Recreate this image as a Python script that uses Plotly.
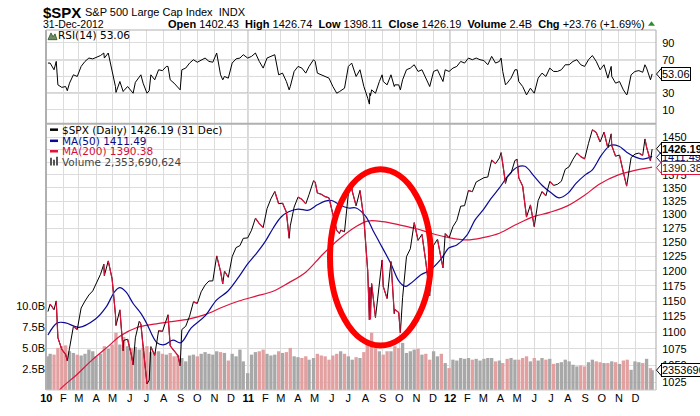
import math
import plotly.graph_objects as go

# ---------------- data ----------------
d2010 = ["01-04","01-08","01-15","01-22","01-29","02-05","02-12","02-19","02-26","03-05","03-12","03-19","03-26",
         "04-01","04-09","04-16","04-23","04-30","05-07","05-14","05-21","05-28","06-04","06-11","06-18","06-25",
         "07-02","07-09","07-16","07-23","07-30","08-06","08-13","08-20","08-27","09-03","09-10","09-17","09-24",
         "10-01","10-08","10-15","10-22","10-29","11-05","11-12","11-19","11-26","12-03","12-10","12-17","12-23","12-31"]
d2011 = ["01-07","01-14","01-21","01-28","02-04","02-11","02-18","02-25","03-04","03-11","03-18","03-25",
         "04-01","04-08","04-15","04-21","04-29","05-06","05-13","05-20","05-27","06-03","06-10","06-17","06-24",
         "07-01","07-08","07-15","07-22","07-29","08-05","08-12","08-19","08-26","09-02","09-09","09-16","09-23","09-30",
         "10-07","10-14","10-21","10-28","11-04","11-11","11-18","11-25","12-02","12-09","12-16","12-23","12-30"]
d2012 = ["01-06","01-13","01-20","01-27","02-03","02-10","02-17","02-24","03-02","03-09","03-16","03-23","03-30",
         "04-05","04-13","04-20","04-27","05-04","05-11","05-18","05-25","06-01","06-08","06-15","06-22","06-29",
         "07-06","07-13","07-20","07-27","08-03","08-10","08-17","08-24","08-31","09-07","09-14","09-21","09-28",
         "10-05","10-12","10-19","10-26","11-02","11-09","11-16","11-23","11-30","12-07","12-14","12-21","12-28","12-31"]
week_dates = ["2010-" + d for d in d2010] + ["2011-" + d for d in d2011] + ["2012-" + d for d in d2012]

week_close = [
    1133.0, 1145.0, 1136.0, 1091.8, 1073.9, 1066.2, 1075.5, 1109.2, 1104.5, 1138.7, 1150.0, 1159.9, 1166.6,
    1178.1, 1194.4, 1192.1, 1217.3, 1186.7, 1110.9, 1135.7, 1087.7, 1089.4, 1064.9, 1091.6, 1117.5, 1076.8,
    1022.6, 1078.0, 1064.9, 1102.7, 1101.6, 1121.6, 1079.3, 1071.7, 1064.6, 1104.5, 1109.6, 1125.6, 1148.7,
    1146.2, 1165.2, 1176.2, 1183.1, 1183.3, 1225.9, 1199.2, 1199.7, 1189.4, 1224.7, 1240.4, 1243.9, 1256.8, 1257.6,
    1271.5, 1293.2, 1283.4, 1276.3, 1310.9, 1329.2, 1343.0, 1319.9, 1321.2, 1304.3, 1279.2, 1313.8,
    1332.4, 1328.2, 1319.7, 1337.4, 1363.6, 1340.2, 1337.8, 1333.3, 1331.1, 1300.2, 1271.0, 1271.5, 1268.5,
    1339.7, 1343.8, 1316.1, 1345.0, 1292.3, 1199.4, 1178.8, 1123.5, 1176.8, 1174.0, 1154.2, 1216.0, 1136.4, 1131.4,
    1155.5, 1224.6, 1238.3, 1285.1, 1253.2, 1263.9, 1215.7, 1158.7, 1244.3, 1255.2, 1219.7, 1265.3, 1257.6,
    1277.8, 1289.1, 1315.4, 1316.3, 1344.9, 1342.6, 1361.2, 1365.7, 1369.6, 1370.9, 1404.2, 1397.1, 1408.5,
    1398.1, 1370.3, 1378.5, 1403.4, 1369.1, 1353.4, 1295.2, 1317.8, 1278.0, 1325.7, 1342.8, 1335.0, 1362.2,
    1354.7, 1356.8, 1362.7, 1386.0, 1391.0, 1405.9, 1418.2, 1411.1, 1406.6, 1437.9, 1465.8, 1460.2, 1440.7,
    1460.9, 1428.6, 1433.2, 1411.9, 1414.2, 1379.9, 1359.9, 1409.2, 1416.2, 1418.1, 1413.6, 1430.2, 1402.4, 1426.19]

week_rsi = [
    66, 66, 58, 40, 37, 38, 42, 52, 50, 62, 68, 72, 71,
    73, 75, 72, 78, 58, 31, 44, 33, 38, 33, 43, 50, 42,
    30, 52, 46, 58, 57, 62, 46, 42, 37, 58, 60, 66, 70,
    67, 70, 72, 68, 67, 78, 52, 50, 48, 66, 71, 72, 76, 72,
    74, 78, 68, 60, 72, 74, 76, 52, 54, 44, 38, 56,
    62, 60, 54, 62, 70, 54, 52, 50, 48, 38, 30, 33, 36,
    62, 64, 50, 58, 38, 24, 34, 30, 44, 44, 40, 52, 40, 40,
    46, 58, 60, 64, 56, 58, 48, 38, 56, 58, 48, 58, 56,
    60, 62, 68, 66, 72, 70, 72, 70, 69, 64, 74, 66, 68,
    56, 42, 48, 58, 44, 38, 28, 36, 30, 48, 54, 50, 60,
    56, 56, 58, 64, 64, 68, 70, 64, 62, 70, 75, 68, 58,
    64, 48, 50, 42, 44, 34, 29, 52, 56, 57, 55, 60, 46, 53.06]

week_volume_b = [
    4.0, 4.3, 4.2, 5.0, 5.2, 5.3, 4.6, 4.4, 4.2, 4.1, 4.3, 4.8, 4.6,
    4.0, 4.3, 5.2, 4.9, 5.4, 6.8, 5.4, 6.3, 5.2, 5.0, 5.1, 4.8, 5.0,
    5.2, 4.5, 4.5, 4.6, 4.3, 4.2, 4.4, 4.0, 4.1, 3.8, 3.4, 4.1, 4.2,
    4.0, 4.3, 4.5, 4.3, 4.2, 4.6, 4.5, 4.4, 3.5, 4.3, 4.0, 4.8, 3.4, 2.0,
    4.2, 4.5, 4.6, 4.8, 4.3, 4.1, 4.2, 4.6, 4.4, 4.5, 5.0, 4.0,
    3.9, 3.8, 4.0, 3.6, 3.8, 4.3, 4.1, 4.0, 3.6, 4.1, 4.3, 4.6, 4.3,
    4.0, 3.6, 3.9, 3.8, 4.5, 5.6, 6.8, 5.3, 4.6, 4.2, 4.6, 4.6, 5.2, 5.0,
    5.6, 4.4, 4.6, 4.8, 4.9, 4.2, 4.3, 3.6, 4.6, 4.0, 4.3, 3.2, 2.6,
    3.6, 3.5, 3.8, 3.7, 3.8, 3.6, 3.7, 3.5, 3.7, 3.8, 3.8, 3.4, 3.5,
    3.2, 3.7, 3.8, 3.6, 3.6, 3.8, 4.0, 3.4, 3.8, 3.5, 3.8, 3.6, 3.7,
    3.1, 3.2, 3.3, 3.6, 3.4, 3.0, 2.8, 2.9, 2.8, 3.3, 3.6, 3.4, 3.3,
    3.2, 3.2, 3.4, 3.3, 3.1, 3.5, 3.6, 2.4, 3.4, 3.3, 3.2, 3.7, 2.6, 2.35]

# intra-week extremes
extra_dates = ["2010-01-19","2010-02-08","2010-04-15","2010-05-06","2010-05-20","2010-06-07","2010-06-21",
               "2010-07-06","2010-08-09","2010-08-31","2010-11-16","2011-03-16","2011-05-02","2011-06-15",
               "2011-07-07","2011-08-08","2011-08-09","2011-08-10","2011-08-31","2011-09-22","2011-10-03",
               "2011-12-19","2012-04-02","2012-04-10","2012-05-01","2012-10-18","2012-11-15","2012-12-18"]
extra_close = [1150.2, 1056.7, 1211.7, 1128.2, 1071.6, 1050.5, 1113.2,
               1028.1, 1127.8, 1049.3, 1178.3, 1256.9, 1361.2, 1265.4,
               1353.2, 1119.5, 1172.5, 1120.8, 1218.9, 1129.6, 1099.2,
               1205.4, 1419.0, 1358.6, 1405.8, 1457.3, 1353.3, 1446.8]
extra_rsi = [68, 33, 78, 38, 32, 30, 52,
             33, 62, 34, 46, 34, 68, 32,
             66, 17, 30, 27, 52, 38, 34,
             44, 72, 40, 58, 62, 28, 64]

ma50_dates = ["2010-01-04","2010-01-21","2010-02-05","2010-03-01","2010-03-31","2010-04-19","2010-05-05","2010-05-14",
              "2010-05-25","2010-06-07","2010-06-21","2010-07-01","2010-07-20","2010-08-02","2010-08-18","2010-09-01",
              "2010-09-20","2010-10-15","2010-11-05","2010-11-25","2010-12-15","2010-12-31",
              "2011-01-14","2011-01-31","2011-02-15","2011-03-01","2011-03-15","2011-04-01","2011-04-20","2011-05-06",
              "2011-05-20","2011-06-01","2011-06-15","2011-07-01","2011-07-15","2011-08-01","2011-08-15","2011-08-26",
              "2011-09-15","2011-10-01","2011-10-12","2011-10-20","2011-11-10","2011-11-25","2011-12-15","2011-12-30",
              "2012-01-13","2012-01-31","2012-02-15","2012-03-01","2012-03-15","2012-03-30","2012-04-16","2012-05-01",
              "2012-05-15","2012-06-01","2012-06-15","2012-07-02","2012-07-16","2012-08-01","2012-08-15","2012-09-01",
              "2012-09-14","2012-10-01","2012-10-17","2012-11-01","2012-11-15","2012-12-01","2012-12-14","2012-12-31"]
ma50_values = [1096, 1115, 1115, 1108, 1121, 1140, 1166, 1172,
               1165, 1146, 1130, 1115, 1084, 1081, 1088, 1084,
               1107, 1126, 1152, 1166, 1190, 1212,
               1228, 1250, 1275, 1295, 1305, 1310, 1308, 1318,
               1325, 1326, 1318, 1312, 1312, 1297, 1270, 1250,
               1214, 1182, 1174, 1178, 1194, 1201, 1220, 1240,
               1245, 1262, 1290, 1309, 1330, 1350, 1375, 1390,
               1392, 1372, 1355, 1340, 1331, 1340, 1358, 1375,
               1385, 1415, 1434, 1432, 1420, 1410, 1406, 1411.49]

ma200_dates = ["2010-01-04","2010-01-25","2010-02-25","2010-03-25","2010-04-25","2010-05-14","2010-06-15","2010-07-15",
               "2010-08-15","2010-09-15","2010-10-15","2010-11-15","2010-12-15",
               "2011-01-15","2011-02-15","2011-03-15","2011-04-15","2011-05-15","2011-06-15","2011-07-15","2011-08-05",
               "2011-09-01","2011-10-01","2011-11-01","2011-12-01","2011-12-30",
               "2012-01-31","2012-02-29","2012-03-30","2012-04-30","2012-05-31","2012-06-29","2012-07-31","2012-08-31",
               "2012-09-28","2012-10-31","2012-11-30","2012-12-31"]
ma200_values = [990, 1014, 1036, 1058, 1080, 1094, 1108, 1113,
                1117, 1121, 1128, 1140, 1150,
                1158, 1166, 1180, 1198, 1228, 1256, 1278, 1288,
                1287, 1281, 1274, 1265, 1258,
                1254, 1258, 1266, 1282, 1296, 1304, 1316, 1336,
                1358, 1375, 1384, 1390.38]

month_labels = ["<b>10</b>","F","M","A","M","J","J","A","S","O","N","D",
                "<b>11</b>","F","M","A","M","J","J","A","S","O","N","D",
                "<b>12</b>","F","M","A","M","J","J","A","S","O","N","D"]
month_ticks = [f"{y}-{m:02d}-01" for y in (2010, 2011, 2012) for m in range(1, 13)]
price_ticks = [1025, 1050, 1075, 1100, 1125, 1150, 1175, 1200, 1225, 1250, 1275, 1300,
               1325, 1350, 1375, 1400, 1425, 1450]
rsi_ticks = [10, 30, 50, 70, 90]
rsi_tick_labels = ["10", "30", "", "70", "90"]
vol_ticks_b = [2.5, 5.0, 7.5, 10.0]
vol_tick_labels = ["2.5B", "5.0B", "7.5B", "10.0B"]

# ---------------- layout geometry (pixels) ----------------
W, H = 700, 416
L, R, T, B = 46, 44, 30, 14
PW, PH = W - L - R, H - T - B
SPLIT = 127  # pixel y of RSI / price panel border


def px(x):
    return (x - L) / PW


def py(y):
    return (H - B - y) / PH


split_paper = py(SPLIT)

# merged close/RSI series
pts = sorted(list(zip(week_dates, week_close, week_rsi)) + list(zip(extra_dates, extra_close, extra_rsi)))
all_dates = [p[0] for p in pts]
all_close = [p[1] for p in pts]
all_rsi = [p[2] for p in pts]

# down segments of the close line drawn in red
red_x, red_y = [], []
for i in range(1, len(all_dates)):
    if all_close[i] < all_close[i - 1]:
        red_x += [all_dates[i - 1], all_dates[i], None]
        red_y += [all_close[i - 1], all_close[i], None]

vol_colors = []
for i, c in enumerate(week_close):
    prev = week_close[i - 1] if i > 0 else c - 1
    vol_colors.append("#e2a0a0" if c < prev else "#a8a8a8")

fig = go.Figure()

fig.add_trace(go.Bar(x=week_dates, y=[v * 1e9 for v in week_volume_b], marker=dict(color=vol_colors, line=dict(width=0)),
                     width=6 * 86400000, xaxis="x", yaxis="y", hoverinfo="skip"))
fig.add_trace(go.Scatter(x=ma200_dates, y=ma200_values, mode="lines", line=dict(color="#dc143c", width=1.2, shape="spline"),
                         xaxis="x", yaxis="y3"))
fig.add_trace(go.Scatter(x=ma50_dates, y=ma50_values, mode="lines", line=dict(color="#0a0a96", width=1.2, shape="spline"),
                         xaxis="x", yaxis="y3"))
fig.add_trace(go.Scatter(x=all_dates, y=all_close, mode="lines", line=dict(color="#000000", width=1),
                         xaxis="x", yaxis="y3"))
fig.add_trace(go.Scatter(x=red_x, y=red_y, mode="lines", line=dict(color="#e0103a", width=1.2),
                         xaxis="x", yaxis="y3", connectgaps=False))
fig.add_trace(go.Scatter(x=all_dates, y=all_rsi, mode="lines", line=dict(color="#000000", width=1),
                         xaxis="x2", yaxis="y2"))

grid = "#dcdcdc"
axis_font = dict(family="Liberation Sans, Arial, sans-serif", size=11, color="#000")
xrange = ["2009-12-31 12:00", "2013-01-07"]

fig.update_layout(
    width=W, height=H, margin=dict(l=L, r=R, t=T, b=B),
    paper_bgcolor="white", plot_bgcolor="white", showlegend=False,
    xaxis=dict(domain=[0, 1], anchor="y", type="date", range=xrange, tickvals=month_ticks, ticktext=month_labels,
               showgrid=True, gridcolor=grid, gridwidth=1, ticks="", tickfont=axis_font, showline=False, zeroline=False),
    xaxis2=dict(domain=[0, 1], anchor="y2", type="date", range=xrange, matches="x", tickvals=month_ticks,
                showticklabels=False, showgrid=True, gridcolor=grid, ticks="", showline=False),
    yaxis=dict(domain=[0, split_paper], anchor="x", range=[0, 31.6e9], side="left",
               tickvals=[v * 1e9 for v in vol_ticks_b], ticktext=vol_tick_labels, showgrid=False, zeroline=False,
               ticks="", tickfont=axis_font, showline=False),
    yaxis3=dict(overlaying="y", anchor="x", side="right", type="log", range=[3.00596, 3.1697],
                tickvals=price_ticks, ticktext=[str(v) for v in price_ticks], showgrid=True, gridcolor=grid,
                ticks="outside", ticklen=3, tickcolor="rgba(0,0,0,0)", tickfont=axis_font, showline=False, zeroline=False),
    yaxis2=dict(domain=[split_paper, 1], anchor="x2", side="right", range=[-6.6, 105.5], tickvals=rsi_ticks,
                ticktext=rsi_tick_labels, showgrid=True, gridcolor=grid, zeroline=False,
                ticks="outside", ticklen=3, tickcolor="rgba(0,0,0,0)", tickfont=axis_font, showline=False),
)

shapes = []
# year separator lines
for yd in ("2011-01-01", "2012-01-01"):
    shapes.append(dict(type="line", xref="x", yref="paper", x0=yd, x1=yd, y0=0, y1=1,
                       line=dict(color="#b4b4b4", width=1.5), layer="between"))
# RSI reference lines
for lvl in (30, 70):
    shapes.append(dict(type="line", xref="paper", yref="y2", x0=0, x1=1, y0=lvl, y1=lvl,
                       line=dict(color="#6e6e6e", width=1), layer="between"))
shapes.append(dict(type="line", xref="paper", yref="y2", x0=0, x1=1, y0=50, y1=50,
                   line=dict(color="#6e6e6e", width=1, dash="dashdot"), layer="between"))
# frame
shapes.append(dict(type="line", xref="paper", yref="paper", x0=0, x1=0, y0=0, y1=1, line=dict(color="#b0b0b0", width=2)))
shapes.append(dict(type="line", xref="paper", yref="paper", x0=1, x1=1, y0=0, y1=1, line=dict(color="#a8a8a8", width=1)))
shapes.append(dict(type="line", xref="paper", yref="paper", x0=0, x1=1, y0=1, y1=1, line=dict(color="#b0b0b0", width=1)))
shapes.append(dict(type="line", xref="paper", yref="paper", x0=0, x1=1, y0=split_paper, y1=split_paper,
                   line=dict(color="#b0b0b0", width=2)))
shapes.append(dict(type="line", xref="paper", yref="paper", x0=0, x1=1, y0=0, y1=0, line=dict(color="#c8c8c8", width=1)))
# highlight ellipse
shapes.append(dict(type="circle", xref="paper", yref="paper", x0=px(330), x1=px(431), y0=py(356), y1=py(174),
                   line=dict(color="#ff0000", width=6), layer="above"))
# legend swatches
for yy, col in ((133, "#000000"), (144.5, "#0a0a96"), (155.3, "#dc143c")):
    shapes.append(dict(type="line", xref="paper", yref="paper", x0=px(50), x1=px(58), y0=py(yy), y1=py(yy),
                       line=dict(color=col, width=2.5)))
for x0, top in ((50, 162), (53, 164), (56, 161)):
    shapes.append(dict(type="rect", xref="paper", yref="paper", x0=px(x0), x1=px(x0 + 2), y0=py(170), y1=py(top),
                       fillcolor="#555", line=dict(width=0)))
# RSI icon
shapes.append(dict(type="path", xref="paper", yref="paper",
                   path=f"M {px(48)} {py(40)} L {px(51)} {py(33)} L {px(53)} {py(37)} L {px(55)} {py(34)} L {px(57)} {py(40)} Z",
                   fillcolor="#6f8f5f", line=dict(color="#2f4f2f", width=0.8)))
# green up triangle in header
shapes.append(dict(type="path", xref="paper", yref="paper",
                   path=f"M {px(648)} {py(25.5)} L {px(651.5)} {py(21)} L {px(655)} {py(25.5)} Z",
                   fillcolor="#2e8b2e", line=dict(width=0)))

annotations = []


def ann(x, y, text, size=11, color="#000", family="Liberation Sans, Arial, sans-serif", xanchor="left", **kw):
    annotations.append(dict(xref="paper", yref="paper", x=px(x), y=py(y), text=text, showarrow=False,
                            xanchor=xanchor, yanchor="middle", font=dict(size=size, color=color, family=family), **kw))


ann(41, 11.5, "<b>$SPX</b>", size=15)
ann(83, 11.5, "S&P 500 Large Cap Index  INDX", size=11)
ann(41, 23.3, "31-Dec-2012", size=10.5)
ann(647, 23.3, "<b>Open</b> 1402.43  <b>High</b> 1426.74  <b>Low</b> 1398.11  <b>Close</b> 1426.19  "
               "<b>Volume</b> 2.4B  <b>Chg</b> +23.76 (+1.69%)", size=11, xanchor="right")
dv = "DejaVu Sans, Verdana, sans-serif"
ann(56, 35, "RSI(14) 53.06", size=10.5, family=dv)
ann(60, 133, "$SPX (Daily) 1426.19 (31 Dec)", size=10.5, family=dv)
ann(60, 144.5, "MA(50) 1411.49", size=10.5, family=dv, color="#0a0a80")
ann(60, 155.3, "MA(200) 1390.38", size=10.5, family=dv, color="#d0103a")
ann(60, 166, "Volume 2,353,690,624", size=10.5, family=dv, color="#444")

# right-edge value boxes (drawn in stacking order)
boxes = [(161.7, "1411.49", "#0a0a96", "#0a0a60", False),
         (152.7, "1426.19", "#000000", "#000000", True),
         (172.3, "1390.38", "#dc143c", "#222222", False),
         (75.5, "53.06", "#000000", "#000000", False),
         (381.5, "2353690", "#000000", "#000000", False)]
for yy, txt, border, tcol, bold in boxes:
    ann(661, yy, f"<b>{txt}</b>" if bold else txt, size=11, color=tcol, bgcolor="white",
        bordercolor=border, borderwidth=1, borderpad=0)
    shapes.append(dict(type="path", xref="paper", yref="paper",
                       path=f"M {px(661.5)} {py(yy - 6)} L {px(656.5)} {py(yy)} L {px(661.5)} {py(yy + 6)}",
                       line=dict(color=border, width=1)))

fig.update_layout(shapes=shapes, annotations=annotations)
fig.write_html("out.html", config={"displayModeBar": False},
               post_script="document.body.style.margin='0';document.body.style.overflow='hidden';")
